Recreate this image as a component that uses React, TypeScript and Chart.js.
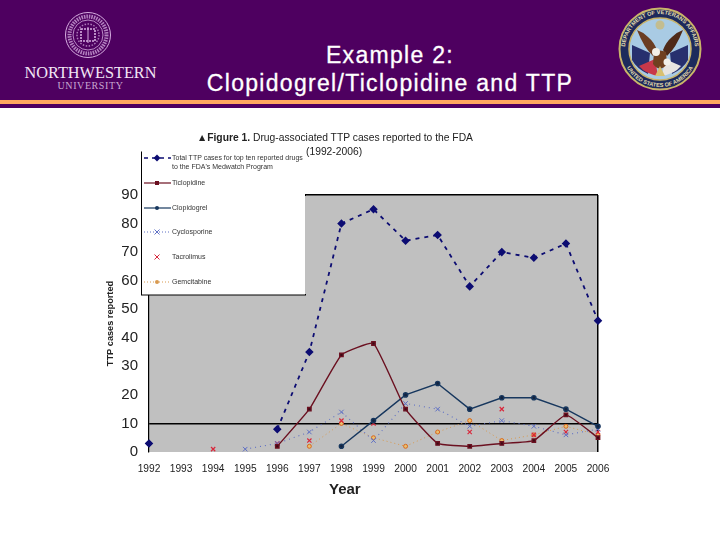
import { useEffect, useRef } from "react";
import Chart from "chart.js/auto";

const years = ["1992", "1993", "1994", "1995", "1996", "1997", "1998", "1999", "2000", "2001", "2002", "2003", "2004", "2005", "2006"];
const total = [3, null, null, null, 8, 35, 80, 85, 74, 76, 58, 70, 68, 73, 46];
const ticlopidine = [null, null, null, null, 2, 15, 34, 38, 15, 3, 2, 3, 4, 13, 5];
const clopidogrel = [null, null, null, null, null, null, 2, 11, 20, 24, 15, 19, 19, 15, 9];
const cyclosporine = [null, null, null, 1, 3, 7, 14, 4, 17, 15, 9, 11, 9, 6, 8];
const tacrolimus = [null, null, 1, null, 3, 4, 11, 10, null, null, 7, 15, 6, 7, 7];
const gemcitabine = [null, null, null, null, null, 2, 10, 5, 2, 7, 11, 4, 6, 9, 6];
const yTicks = [0, 10, 20, 30, 40, 50, 60, 70, 80, 90];

const PURPLE = "#4e0060";
const NAVY = "#0c0c72";
const MAROON = "#6b1020";
const TEAL = "#17375e";
const BLUE = "#5f70c4";
const RED = "#d8283c";
const GOLD = "#d89a50";

const plotBackground = {
  id: "plotBackground",
  beforeDraw(chart: any) {
    const { ctx, chartArea: a } = chart;
    ctx.save();
    ctx.fillStyle = "#c0c0c0";
    ctx.fillRect(a.left, a.top, a.right - a.left, a.bottom - a.top);
    ctx.restore();
  },
};

const legendRows = [
  { y: 158, text: "Total TTP cases for top ten reported drugs", color: NAVY, dash: "4 4", width: 1.6, mark: "diamond" },
  { y: 183, text: "Ticlopidine", color: MAROON, dash: "", width: 1.2, mark: "square" },
  { y: 208, text: "Clopidogrel", color: TEAL, dash: "", width: 1.2, mark: "circle" },
  { y: 232, text: "Cyclosporine", color: BLUE, dash: "1 2", width: 1, mark: "cross" },
  { y: 257, text: "Tacrolimus", color: RED, dash: "none", width: 1, mark: "cross" },
  { y: 282, text: "Gemcitabine", color: GOLD, dash: "1 2", width: 1, mark: "circle" },
];

const textStyle = (style: any) => ({ position: "absolute", whiteSpace: "nowrap", fontFamily: "'Liberation Sans', Arial, sans-serif", ...style });

function LegendMark({ row }: any) {
  const c = 157;
  return (
    <g>
      {row.dash !== "none" && (
        <line x1={144} x2={171} y1={row.y} y2={row.y} stroke={row.color} strokeWidth={row.width} strokeDasharray={row.dash} />
      )}
      {row.mark === "diamond" && <path d={`M${c} ${row.y - 3.5}l3.5 3.5l-3.5 3.5l-3.5-3.5z`} fill={row.color} />}
      {row.mark === "square" && <rect x={c - 2} y={row.y - 2} width={4} height={4} fill={row.color} />}
      {row.mark === "circle" && <circle cx={c} cy={row.y} r={2} fill={row.color} />}
      {row.mark === "cross" && <path d={`M${c - 2.5} ${row.y - 2.5}l5 5m0-5l-5 5`} stroke={row.color} strokeWidth={1} />}
    </g>
  );
}

function NorthwesternLogo() {
  const pale = "#d6aee0";
  return (
    <>
      <svg width={60} height={60} viewBox="0 0 60 60" style={{ position: "absolute", left: 58, top: 5 } as any}>
        <circle cx={30} cy={30} r={22.5} fill="none" stroke={pale} strokeWidth={1} />
        <circle cx={30} cy={30} r={18.5} fill="none" stroke={pale} strokeWidth={4} strokeDasharray="1.5 1" opacity={0.75} />
        <circle cx={30} cy={30} r={15} fill="none" stroke={pale} strokeWidth={0.8} />
        <circle cx={30} cy={30} r={11} fill="none" stroke={pale} strokeWidth={1.5} strokeDasharray="1.5 1.5" opacity={0.7} />
        <rect x={23} y={24} width={14} height={12} fill="none" stroke={pale} strokeWidth={1.6} strokeDasharray="2 1" />
        <line x1={30} x2={30} y1={22} y2={38} stroke={pale} strokeWidth={1} />
      </svg>
      <div style={textStyle({ left: 0, width: 181, textAlign: "center", top: 64, fontFamily: "'Liberation Serif', serif", fontSize: 16.3, lineHeight: "18px", color: "#f2e6f5" }) as any}>NORTHWESTERN</div>
      <div style={textStyle({ left: 0, width: 181, textAlign: "center", top: 80, fontFamily: "'Liberation Serif', serif", fontSize: 10, letterSpacing: 0.6, lineHeight: "12px", color: "#c9a8d2" }) as any}>UNIVERSITY</div>
    </>
  );
}

function VaSeal() {
  return (
    <svg width={90} height={90} viewBox="0 0 90 90" style={{ position: "absolute", left: 615, top: 4 } as any}>
      <defs>
        <path id="sealTop" d="M10 45a35 35 0 0 1 70 0" />
        <path id="sealBottom" d="M7 45a38 38 0 0 0 76 0" />
      </defs>
      <circle cx={45} cy={45} r={40.5} fill="#1d2a5c" stroke="#c9b46a" strokeWidth={2} />
      <circle cx={45} cy={45} r={31} fill="#a9cbe4" stroke="#c9b46a" strokeWidth={1.5} />
      <text fontSize={5.6} fontWeight="bold" fill="#e4dcae" fontFamily="'Liberation Sans', sans-serif">
        <textPath href="#sealTop" startOffset="50%" textAnchor="middle">DEPARTMENT OF VETERANS AFFAIRS</textPath>
      </text>
      <text fontSize={5.6} fontWeight="bold" fill="#e4dcae" fontFamily="'Liberation Sans', sans-serif">
        <textPath href="#sealBottom" startOffset="50%" textAnchor="middle">UNITED STATES OF AMERICA</textPath>
      </text>
      <path d="M17 41l18 8l-2 21q-11-5-16-14z" fill="#27306e" />
      <path d="M73 41l-18 8l2 21q11-5 16-14z" fill="#27306e" />
      <path d="M24 62l16-7l3 17q-9-2-15-6z" fill="#c8384a" />
      <path d="M66 62l-16-7l-3 17q9-2 15-6z" fill="#e8e4e0" />
      <path d="M22 26q6 2 11 7q6 5 9 13l-4 6q-9-8-16-26z" fill="#6b3d22" />
      <path d="M68 26q-6 2-11 7q-6 5-9 13l4 6q9-8 16-26z" fill="#4f2a18" />
      <path d="M39 48q6-3 12 0l1 12q-7 9-14 0z" fill="#70401f" />
      <circle cx={41} cy={48} r={4} fill="#f2efe8" />
      <circle cx={52} cy={58} r={3.5} fill="#f2efe8" />
      <path d="M45 62l-5 10h10z" fill="#d8c070" />
      <circle cx={45} cy={21} r={4.5} fill="#c9b97a" opacity={0.8} />
    </svg>
  );
}

export default function App() {
  const canvas = useRef<HTMLCanvasElement>(null);

  useEffect(() => {
    if (canvas.current === null) return;
    const chart = new Chart(canvas.current, {
      type: "line",
      data: {
        labels: years,
        datasets: [
          { label: "Total TTP cases", data: total, borderColor: NAVY, backgroundColor: NAVY, borderWidth: 1.8, borderDash: [4, 5], pointStyle: "rectRot", pointRadius: 3 },
          { label: "Ticlopidine", data: ticlopidine, borderColor: MAROON, backgroundColor: "#3a0a14", borderWidth: 1.4, pointStyle: "rect", pointRadius: 2.4, tension: 0.12 },
          { label: "Clopidogrel", data: clopidogrel, borderColor: TEAL, backgroundColor: "#14233f", borderWidth: 1.4, pointStyle: "circle", pointRadius: 2.1 },
          { label: "Cyclosporine", data: cyclosporine, borderColor: BLUE, backgroundColor: BLUE, pointBorderColor: BLUE, borderWidth: 1.1, borderDash: [1, 4], pointStyle: "crossRot", pointRadius: 3.2, pointBorderWidth: 1 },
          { label: "Tacrolimus", data: tacrolimus, borderColor: RED, backgroundColor: RED, showLine: false, pointStyle: "crossRot", pointRadius: 3, pointBorderWidth: 1.2 },
          { label: "Gemcitabine", data: gemcitabine, borderColor: GOLD, backgroundColor: GOLD, pointBorderColor: "#d9681e", pointBackgroundColor: "#e8c070", borderWidth: 1, borderDash: [1, 3], pointStyle: "circle", pointRadius: 2, pointBorderWidth: 1 },
        ],
      },
      options: {
        responsive: false,
        animation: false,
        layout: { padding: { left: 105, right: 122, top: 195, bottom: 64 } },
        plugins: { legend: { display: false }, tooltip: { enabled: false } },
        scales: {
          x: {
            offset: false,
            grid: {
              drawTicks: false,
              lineWidth: 1.5,
              color: (c: any) => (c.index === years.length - 1 ? "#000" : "transparent"),
            },
            border: { display: false },
            ticks: { color: "#222", padding: 11, maxRotation: 0, autoSkip: false, font: { family: "'Liberation Sans', sans-serif", size: 10.2 } },
            afterFit: (s: any) => { s.height = 24; },
          },
          y: {
            min: 0,
            max: 90,
            afterBuildTicks: (s: any) => { s.ticks = yTicks.map((value) => ({ value })); },
            grid: {
              drawTicks: false,
              lineWidth: 1.5,
              color: (c: any) => (c.tick.value === 10 || c.tick.value === 90 ? "#000" : "transparent"),
            },
            border: { color: "#000", width: 1.2 },
            ticks: { color: "#222", padding: 11, font: { family: "'Liberation Sans', sans-serif", size: 15 } },
            title: { display: true, text: "TTP cases reported", color: "#222", padding: 0, font: { family: "'Liberation Sans', sans-serif", size: 9.2, weight: "bold" } },
            afterFit: (s: any) => { s.width = 44; },
          },
        },
      },
      plugins: [plotBackground],
    } as any);
    return () => chart.destroy();
  }, []);

  return (
    <div style={{ position: "absolute", left: 0, top: 0, width: 720, height: 540, background: "#fff", overflow: "hidden" }}>
      <div style={{ position: "absolute", left: 0, top: 0, width: 720, height: 108, background: PURPLE }} />
      <div style={{ position: "absolute", left: 0, top: 100, width: 720, height: 4, background: "#ffa860" }} />
      <NorthwesternLogo />
      <VaSeal />
      <div style={textStyle({ left: 190, width: 400, top: 41, textAlign: "center", color: "#fff", fontSize: 23, lineHeight: "28px", letterSpacing: 1.3, WebkitTextStroke: "0.3px #fff" }) as any}>
        Example 2:<br />Clopidogrel/Ticlopidine and TTP
      </div>
      <canvas ref={canvas} width={720} height={540} style={{ position: "absolute", left: 0, top: 0 }} />
      <svg width={720} height={540} style={{ position: "absolute", left: 0, top: 0 } as any}>
        <rect x={141.5} y={152} width={164} height={143} fill="#fff" stroke="#000" strokeWidth={1} />
        <rect x={142} y={150} width={165} height={3} fill="#fff" />
        <rect x={305} y={150} width={3} height={44} fill="#fff" />
        <rect x={305} y={196} width={1} height={98} fill="#c0c0c0" />
        {legendRows.map((row) => <LegendMark key={row.text} row={row} />)}
      </svg>
      <div style={textStyle({ left: 197, top: 132, fontSize: 10.3, lineHeight: "12px", color: "#222" }) as any}>
        <b>▲Figure 1.</b> Drug-associated TTP cases reported to the FDA
      </div>
      <div style={textStyle({ left: 306, top: 146, fontSize: 10.3, lineHeight: "12px", color: "#222" }) as any}>(1992-2006)</div>
      {legendRows.map((row) => (
        <div key={row.text} style={textStyle({ left: 172, top: row.y - 5, fontSize: 7, lineHeight: "10px", color: "#333" }) as any}>{row.text}</div>
      ))}
      <div style={textStyle({ left: 172, top: 162, fontSize: 7, lineHeight: "10px", color: "#333" }) as any}>to the FDA's Medwatch Program</div>
      <div style={textStyle({ left: 329, top: 481, fontSize: 15, fontWeight: "bold", lineHeight: "16px", color: "#222" }) as any}>Year</div>
    </div>
  );
}
